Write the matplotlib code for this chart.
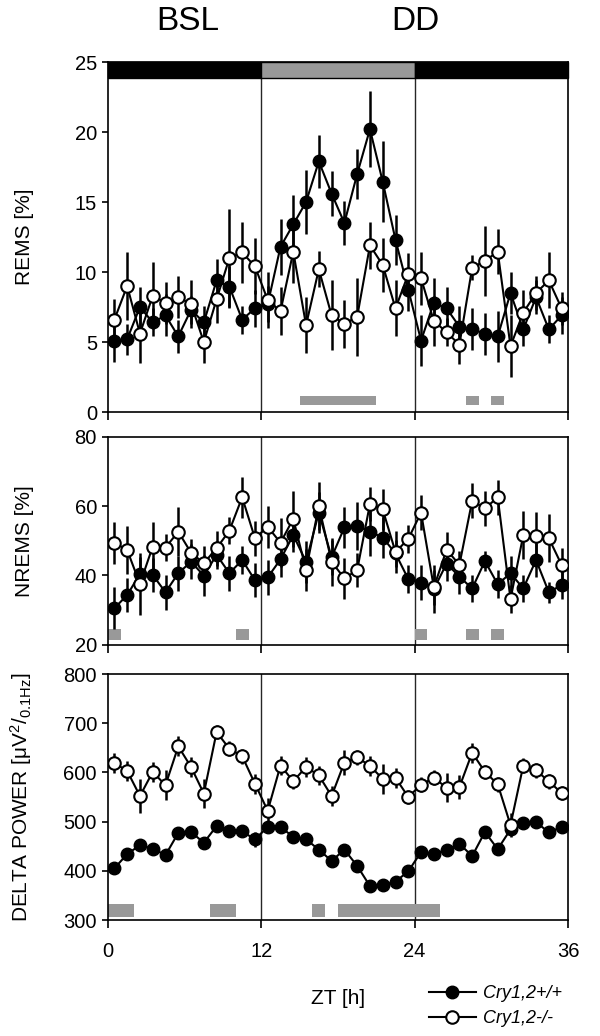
import numpy as np
import matplotlib
matplotlib.use('Agg')
import matplotlib.pyplot as plt
from matplotlib.lines import Line2D

plt.rcParams['font.family'] = ['Liberation Sans', 'DejaVu Sans']

# ZT hours (hourly means)
zt = np.arange(36) + 0.5

# REMS [%]
rems_wt = [5.1, 5.2, 7.5, 6.4, 6.9, 5.4, 7.3, 6.4, 9.4, 8.95, 6.6, 7.4,
           7.7, 11.8, 13.4, 15.0, 17.9, 15.6, 13.5, 17.0, 20.2, 16.45, 12.3, 8.75,
           5.1, 7.8, 7.4, 6.1, 5.9, 5.6, 5.4, 8.5, 5.9, 8.2, 5.9, 6.9]
rems_wt_err = [1.5, 1.1, 1.4, 1.0, 1.5, 1.2, 1.0, 1.2, 1.5, 1.5, 1.0, 1.3,
               1.3, 2.0, 2.1, 2.3, 1.9, 1.6, 1.6, 1.8, 2.7, 2.9, 1.8, 1.5,
               1.8, 1.8, 1.5, 1.5, 1.5, 1.5, 1.8, 1.5, 1.2, 1.2, 1.0, 1.3]
rems_ko = [6.6, 9.0, 5.6, 8.3, 7.8, 8.2, 7.7, 5.0, 8.05, 11.0, 11.4, 10.4,
           8.0, 7.2, 11.45, 6.2, 10.2, 6.9, 6.3, 6.8, 11.9, 10.5, 7.4, 9.85,
           9.55, 6.5, 5.7, 4.8, 10.3, 10.8, 11.45, 4.7, 7.1, 8.5, 9.4, 7.4]
rems_ko_err = [1.5, 2.4, 2.1, 2.4, 1.5, 1.5, 1.7, 1.5, 1.7, 3.5, 2.2, 2.0,
               2.0, 1.7, 2.2, 2.0, 1.3, 2.5, 1.7, 2.8, 1.7, 1.9, 2.0, 1.5,
               1.9, 1.8, 1.0, 1.4, 0.9, 2.5, 1.6, 2.2, 1.6, 1.2, 2.0, 1.2]

# NREMS [%]
nrems_wt = [30.5, 34.3, 40.4, 40.1, 35.1, 40.6, 43.9, 39.9, 45.9, 40.6, 44.4, 38.6,
            39.4, 44.6, 51.6, 43.9, 58.1, 45.2, 53.8, 54.2, 52.6, 50.9, 46.3, 38.9,
            37.9, 36.0, 43.4, 39.6, 36.2, 44.1, 37.4, 40.6, 36.2, 44.4, 35.1, 37.2]
nrems_wt_err = [6, 5, 5, 5, 5, 5, 5, 6, 4, 5, 4, 5,
                5, 5, 5, 6, 6, 5, 6, 7, 7, 6, 4, 4,
                5, 7, 5, 5, 4, 3, 4, 5, 4, 5, 3, 4]
nrems_ko = [49.4, 47.3, 37.5, 48.3, 48.0, 52.6, 46.5, 43.5, 47.8, 52.9, 62.5, 50.7,
            54.0, 49.4, 56.3, 41.5, 60.0, 43.9, 39.1, 41.5, 60.6, 59.0, 46.7, 50.5,
            58.1, 36.5, 47.4, 43.0, 61.5, 59.3, 62.5, 33.1, 51.6, 51.4, 50.7, 43.0]
nrems_ko_err = [6, 7, 9, 7, 4, 7, 4, 5, 5, 4, 6, 5,
                6, 7, 8, 6, 7, 7, 6, 5, 5, 6, 6, 4,
                5, 5, 5, 4, 5, 5, 5, 4, 7, 7, 7, 5]

# delta power [uV^2/0.1Hz]
delta_wt = [405, 434, 452, 445, 432, 477, 479, 457, 491, 480, 480, 464,
            489, 489, 469, 464, 443, 420, 443, 410, 369, 371, 378, 399,
            438, 435, 442, 455, 430, 479, 444, 484, 498, 499, 478, 489]
delta_wt_err = [10, 10, 10, 12, 10, 10, 12, 10, 10, 10, 10, 15,
                10, 12, 12, 12, 10, 10, 10, 10, 8, 8, 8, 10,
                8, 10, 8, 10, 10, 10, 10, 12, 10, 10, 10, 10]
delta_ko = [619, 603, 552, 601, 574, 653, 611, 557, 682, 648, 633, 577,
            522, 614, 582, 611, 594, 552, 620, 631, 613, 587, 589, 550,
            575, 589, 569, 570, 640, 601, 576, 493, 614, 604, 582, 558]
delta_ko_err = [20, 20, 35, 20, 30, 20, 20, 30, 15, 15, 15, 20,
                25, 20, 15, 20, 20, 20, 25, 15, 20, 30, 20, 15,
                15, 15, 30, 25, 20, 15, 15, 25, 15, 15, 15, 15]

# significance bars (ZT start, end)
rems_sig = [(15, 21), (28, 29), (30, 31)]
nrems_sig = [(0, 1), (10, 11), (24, 25), (28, 29), (30, 31)]
delta_sig = [(0, 2), (8, 10), (16, 17), (18, 26)]

# light/dark bar
ld_blocks = [(0, 12, 'black'), (12, 24, '#999999'), (24, 36, 'black')]

fig = plt.figure(figsize=(6, 10.36), dpi=100)
W, H = 600.0, 1036.0
def add_ax(top, bottom):
    return fig.add_axes([108 / W, 1 - bottom / H, 460 / W, (bottom - top) / H])

ax1 = add_ax(62, 412)
ax2 = add_ax(436.7, 644.6)
ax3 = add_ax(674, 920)

def draw_panel(ax, wt, wt_err, ko, ko_err, sig, sig_y, sig_h):
    for x in (12, 24):
        ax.axvline(x, color='0.15', lw=1.0, zorder=1)
    for s, e in sig:
        ax.bar(s, sig_h, width=e - s, bottom=sig_y, align='edge',
               color='#999999', lw=0, zorder=1)
    ax.errorbar(zt, wt, yerr=wt_err, fmt='-o', color='black', mfc='black',
                mec='black', ms=9, lw=1.5, elinewidth=1.8, capsize=0, zorder=3)
    ax.errorbar(zt, ko, yerr=ko_err, fmt='-o', color='black', mfc='white',
                mec='black', ms=9, mew=1.5, lw=1.5, elinewidth=1.8, capsize=0, zorder=4)
    ax.set_xlim(0, 36)
    ax.set_xticks([0, 12, 24, 36])
    ax.tick_params(axis='x', direction='out', length=6, width=1.2)
    ax.tick_params(axis='y', direction='out', length=4, width=1.2, labelsize=14.5, pad=4)
    for sp in ax.spines.values():
        sp.set_linewidth(1.2)

# right edge of the rotated y labels
label_x = (34 - 108) / 460.0

draw_panel(ax1, rems_wt, rems_wt_err, rems_ko, rems_ko_err, rems_sig, 0.5, 0.65)
ax1.set_ylim(0, 25)
ax1.set_yticks([0, 5, 10, 15, 20, 25])
for s, e, c in ld_blocks:
    ax1.bar(s, 1.15, width=e - s, bottom=23.85, align='edge', color=c,
            edgecolor='black', lw=1.0, zorder=5, clip_on=False)
ax1.set_ylabel('REMS [%]', fontsize=15)
ax1.yaxis.set_label_coords(label_x, 0.5)
ax1.tick_params(axis='x', labelbottom=False)

draw_panel(ax2, nrems_wt, nrems_wt_err, nrems_ko, nrems_ko_err, nrems_sig, 21.3, 3.1)
ax2.set_ylim(20, 80)
ax2.set_yticks([20, 40, 60, 80])
ax2.set_ylabel('NREMS [%]', fontsize=15)
ax2.yaxis.set_label_coords(label_x, 0.5)
ax2.tick_params(axis='x', labelbottom=False)

draw_panel(ax3, delta_wt, delta_wt_err, delta_ko, delta_ko_err, delta_sig, 307, 25)
ax3.set_ylim(300, 800)
ax3.set_yticks([300, 400, 500, 600, 700, 800])
ax3.set_ylabel(r'DELTA POWER [$\mathregular{\mu V^2/_{0.1Hz}}$]', fontsize=15)
ax3.yaxis.set_label_coords(label_x, 0.5)
ax3.tick_params(axis='x', labelsize=14.5, pad=10)
ax3.set_xlabel('ZT [h]', fontsize=15, labelpad=20)

fig.text(188 / W, 1 - 21 / H, 'BSL', fontsize=24, ha='center', va='center')
fig.text(415 / W, 1 - 21 / H, 'DD', fontsize=24, ha='center', va='center')

handles = [
    Line2D([], [], color='black', marker='o', mfc='black', mec='black', ms=9, lw=1.5),
    Line2D([], [], color='black', marker='o', mfc='white', mec='black', ms=9, mew=1.5, lw=1.5),
]
fig.legend(handles, ['Cry1,2+/+', 'Cry1,2-/-'], loc='center left',
           bbox_to_anchor=(416 / W, 1 - 1006 / H), frameon=False,
           prop={'style': 'italic', 'size': 13}, handlelength=2.6,
           handletextpad=0.4, labelspacing=0.45, borderpad=0.2)

fig.savefig('out.png', dpi=100)
